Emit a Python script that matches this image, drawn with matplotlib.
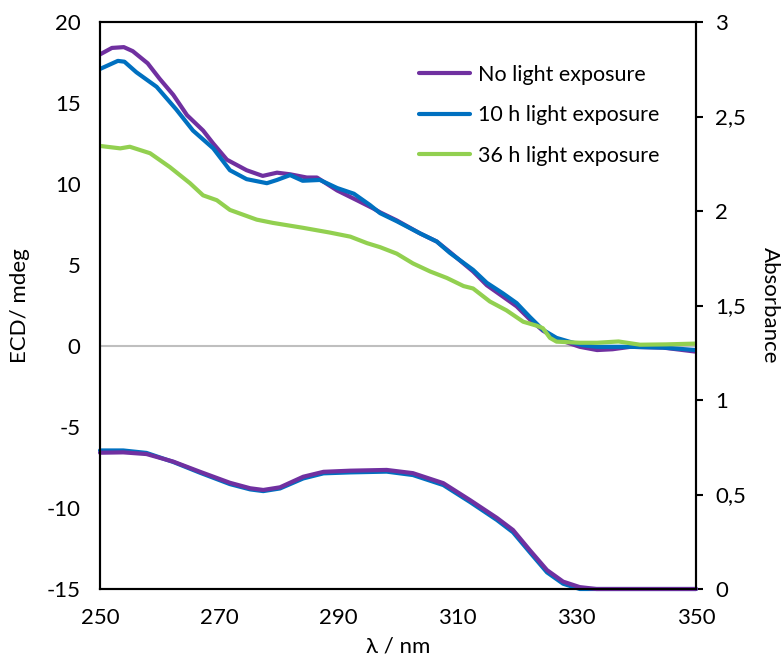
import matplotlib.pyplot as plt
import numpy as np

plt.rcParams['font.family'] = ['Lato', 'DejaVu Sans']
plt.rcParams['axes.unicode_minus'] = False

# ECD spectra (left axis, mdeg)
wl_none = [250, 252, 254, 255.5, 258, 260, 262.3, 264.6, 267.3, 269, 271.3, 274.6, 277.3,
           279.7, 281.9, 284.7, 286.4, 289.8, 293.1, 295.8, 297, 299.8, 303.7, 306.5, 308.7,
           312.6, 314.9, 317.6, 319.9, 322.1, 324.3, 326.6, 328.9, 330.5, 333.4, 336, 339,
           344.5, 350]
ecd_none = [18.0, 18.4, 18.45, 18.2, 17.45, 16.5, 15.5, 14.25, 13.3, 12.5, 11.5, 10.85, 10.5,
            10.7, 10.6, 10.4, 10.4, 9.6, 9.0, 8.5, 8.25, 7.75, 6.95, 6.45, 5.8,
            4.6, 3.75, 3.05, 2.45, 1.65, 0.95, 0.45, 0.15, -0.05, -0.25, -0.2, -0.05,
            -0.1, -0.35]

wl_10h = [250, 253, 254.1, 256.1, 259.5, 262.8, 265.6, 269, 271.8, 274.6, 278, 279.7, 281.9,
          284, 286.9, 289.8, 292.6, 295.3, 297, 299.8, 303.7, 306.5, 308.7, 312.6, 314.9,
          317.6, 319.9, 322.1, 324.3, 326.6, 328.9, 331, 333.4, 339, 344.5, 350]
ecd_10h = [17.1, 17.6, 17.55, 16.9, 16.0, 14.6, 13.3, 12.2, 10.85, 10.3, 10.05, 10.25, 10.55,
           10.2, 10.25, 9.75, 9.4, 8.7, 8.2, 7.7, 6.95, 6.45, 5.75, 4.7, 3.9,
           3.25, 2.65, 1.8, 1.0, 0.5, 0.25, 0.05, -0.05, -0.05, -0.1, -0.25]

wl_36h = [250, 253.4, 255, 258.4, 261.7, 265.1, 267.3, 269.6, 271.8, 276.3, 279, 284, 288.6,
          292, 294.8, 297, 299.8, 302.5, 305.4, 308.2, 311, 312.6, 315.4, 318.2, 321,
          323.3, 324.3, 325.5, 326.6, 330.5, 333.4, 337, 340.6, 345, 350]
ecd_36h = [12.35, 12.2, 12.3, 11.9, 11.05, 10.05, 9.3, 9.0, 8.4, 7.8, 7.6, 7.3, 7.0,
           6.75, 6.35, 6.1, 5.7, 5.1, 4.6, 4.2, 3.7, 3.55, 2.75, 2.2, 1.5,
           1.25, 1.1, 0.5, 0.27, 0.2, 0.2, 0.28, 0.08, 0.1, 0.15]

# absorbance spectra (right axis)
wl_abs = [250, 253.9, 257.8, 262.3, 266.8, 271.8, 275.2, 277.4, 280.2, 284.1, 287.5, 292,
          298.1, 302.5, 307.6, 312.1, 316.6, 319.3, 322.1, 325, 327.7, 330.5, 333.3, 340, 350]
abs_none = [0.721, 0.723, 0.714, 0.674, 0.62, 0.562, 0.533, 0.524, 0.538, 0.594, 0.62, 0.626,
            0.63, 0.613, 0.56, 0.47, 0.376, 0.312, 0.206, 0.1, 0.039, 0.01, 0, 0, 0]
abs_10h = [0.733, 0.733, 0.72, 0.672, 0.615, 0.555, 0.527, 0.518, 0.532, 0.585, 0.612, 0.617,
           0.621, 0.603, 0.55, 0.46, 0.365, 0.3, 0.195, 0.088, 0.028, 0.0, 0, 0, 0]

c_none = '#7030A0'
c_10h = '#0070C0'
c_36h = '#92D050'
lstyle = dict(lw=3, solid_joinstyle='round', solid_capstyle='round')

fig = plt.figure(figsize=(7.83, 6.57), dpi=100)
ax = fig.add_axes([0.1277, 0.1035, 0.7612, 0.863])
ax2 = ax.twinx()

ax.axhline(0, color='#bfbfbf', lw=1.5, zorder=1)
l1, = ax.plot(wl_none, ecd_none, color=c_none, label='No light exposure', zorder=3, **lstyle)
l2, = ax.plot(wl_10h, ecd_10h, color=c_10h, label='10 h light exposure', zorder=4, **lstyle)
l3, = ax.plot(wl_36h, ecd_36h, color=c_36h, label='36 h light exposure', zorder=5, **lstyle)

ax2.plot(wl_abs, abs_10h, color=c_10h, clip_on=False, **lstyle)
ax2.plot(wl_abs, abs_none, color=c_none, clip_on=False, **lstyle)

ax.set_xlim(250, 350)
ax.set_ylim(-15, 20)
ax2.set_ylim(0, 3)
ax.set_xticks(np.arange(250, 351, 20))
ax.set_yticks(np.arange(-15, 21, 5))
ax2.set_yticks(np.arange(0, 3.01, 0.5))
ax2.set_yticklabels(['0', '0,5', '1', '1,5', '2', '2,5', '3'])

for a in (ax, ax2):
    for s in a.spines.values():
        s.set_linewidth(1.5)
        s.set_color('black')
ax.tick_params(axis='both', length=0, labelsize=16, pad=14)
ax.tick_params(axis='x', pad=14)
ax2.tick_params(axis='y', length=5, width=1.5, labelsize=16, pad=9)

ax.set_xlabel('λ / nm', fontsize=16, labelpad=6)
ax.set_ylabel('ECD/ mdeg', fontsize=16, labelpad=12)
ax2.set_ylabel('Absorbance', fontsize=16, rotation=270, labelpad=24)

leg = ax2.legend(handles=[l1, l2, l3], loc='upper left', bbox_to_anchor=(0.52, 0.94),
                 frameon=False, fontsize=15.5, handlelength=2.4, handletextpad=0.35,
                 labelspacing=0.95, borderaxespad=0)

plt.savefig('out.png')
